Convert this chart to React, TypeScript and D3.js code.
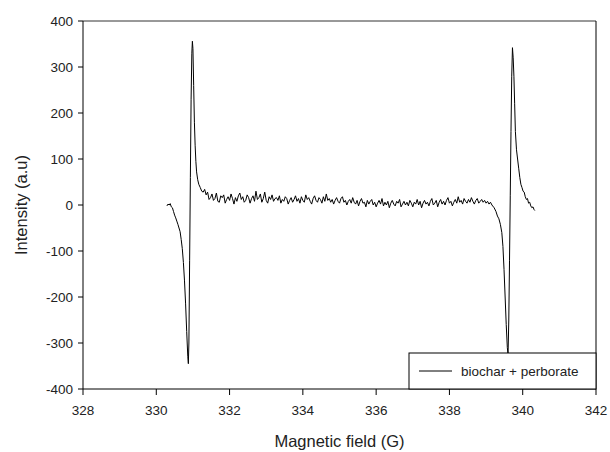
import React from "react";
import * as d3 from "d3";

const xTicks = [328, 330, 332, 334, 336, 338, 340, 342];
const yTicks = [-400, -300, -200, -100, 0, 100, 200, 300, 400];
const seriesName = "biochar + perborate";

// Left resonance line (field G, intensity)
const leftLine: [number, number][] = [
  [330.29, -2], [330.32, 2], [330.35, 0], [330.38, 3], [330.41, -4], [330.44, -6],
  [330.47, -14], [330.5, -22], [330.53, -28], [330.56, -35], [330.59, -42], [330.62, -50],
  [330.65, -58], [330.68, -75], [330.71, -95], [330.74, -125], [330.77, -165], [330.8, -215],
  [330.83, -275], [330.86, -330], [330.875, -345], [330.89, -300], [330.91, -120], [330.93, 60],
  [330.95, 230], [330.97, 330], [330.985, 356], [331.0, 340], [331.02, 260], [331.04, 180],
  [331.06, 130], [331.08, 95], [331.1, 72], [331.13, 55], [331.16, 45], [331.2, 38],
  [331.24, 30], [331.28, 28],
];

// Noisy baseline between the two lines
const baseline: [number, number][] = [
  [331.32, 34], [331.36, 22], [331.4, 28], [331.44, 12], [331.48, 16], [331.52, 24],
  [331.56, 10], [331.6, 14], [331.64, 26], [331.68, 8], [331.72, 6], [331.76, 20],
  [331.8, 16], [331.84, 22], [331.88, 4], [331.92, 12], [331.96, 18], [332.0, 10],
  [332.04, 24], [332.08, 14], [332.12, 2], [332.16, 16], [332.2, 8], [332.24, 20],
  [332.28, 26], [332.32, 12], [332.36, 18], [332.4, 6], [332.44, 10], [332.48, 22],
  [332.52, 16], [332.56, 4], [332.6, 14], [332.64, 20], [332.68, 8], [332.72, 30],
  [332.76, 12], [332.8, 16], [332.84, 24], [332.88, 6], [332.92, 14], [332.96, 28],
  [333.0, 10], [333.04, 4], [333.08, 18], [333.12, 12], [333.16, 22], [333.2, 8],
  [333.24, 14], [333.28, 16], [333.32, 10], [333.36, 20], [333.4, 4], [333.44, 12],
  [333.48, 8], [333.52, 18], [333.56, 14], [333.6, 2], [333.64, 10], [333.68, 16],
  [333.72, 6], [333.76, 12], [333.8, 20], [333.84, 8], [333.88, 14], [333.92, 4],
  [333.96, 18], [334.0, 10], [334.04, 6], [334.08, 22], [334.12, 12], [334.16, 16],
  [334.2, 8], [334.24, 2], [334.28, 14], [334.32, 20], [334.36, 10], [334.4, 6],
  [334.44, 16], [334.48, 12], [334.52, 4], [334.56, 18], [334.6, 8], [334.64, 24],
  [334.68, 10], [334.72, 14], [334.76, 6], [334.8, 12], [334.84, 2], [334.88, 10],
  [334.92, 16], [334.96, 8], [335.0, 4], [335.04, 14], [335.08, 18], [335.12, 6],
  [335.16, 10], [335.2, 0], [335.24, 8], [335.28, 12], [335.32, 4], [335.36, 16],
  [335.4, 6], [335.44, 2], [335.48, 10], [335.52, -2], [335.56, 8], [335.6, 14],
  [335.64, 4], [335.68, 6], [335.72, -4], [335.76, 10], [335.8, 2], [335.84, 8],
  [335.88, 12], [335.92, 0], [335.96, 6], [336.0, -4], [336.04, 4], [336.08, 10],
  [336.12, 2], [336.16, 14], [336.2, -2], [336.24, 6], [336.28, 0], [336.32, 8],
  [336.36, -6], [336.4, 4], [336.44, 10], [336.48, 2], [336.52, -2], [336.56, 8],
  [336.6, 4], [336.64, 12], [336.68, -4], [336.72, 2], [336.76, 8], [336.8, 0],
  [336.84, 6], [336.88, -2], [336.92, 10], [336.96, 4], [337.0, -4], [337.04, 6],
  [337.08, 2], [337.12, 12], [337.16, 0], [337.2, 8], [337.24, -6], [337.28, 4],
  [337.32, 10], [337.36, 2], [337.4, 6], [337.44, -2], [337.48, 8], [337.52, 14],
  [337.56, 0], [337.6, 4], [337.64, 10], [337.68, -4], [337.72, 6], [337.76, 12],
  [337.8, 2], [337.84, 8], [337.88, 0], [337.92, 10], [337.96, 16], [338.0, 4],
  [338.04, 8], [338.08, -2], [338.12, 6], [338.16, 12], [338.2, 4], [338.24, 18],
  [338.28, 6], [338.32, 10], [338.36, 2], [338.4, 14], [338.44, 8], [338.48, 4],
  [338.52, 12], [338.56, 6], [338.6, 16], [338.64, 8], [338.68, 2], [338.72, 10],
  [338.76, 14], [338.8, 4], [338.84, 8], [338.88, 12], [338.92, 6], [338.96, 10],
  [339.0, 4], [339.04, 8], [339.08, 2], [339.12, 6], [339.16, 0],
];

// Right resonance line
const rightLine: [number, number][] = [
  [339.22, -6], [339.27, -14], [339.31, -24], [339.35, -30], [339.39, -42], [339.43, -60],
  [339.46, -90], [339.49, -140], [339.52, -200], [339.55, -260], [339.58, -310], [339.6, -325],
  [339.62, -250], [339.64, -120], [339.66, 20], [339.68, 160], [339.7, 280], [339.72, 342],
  [339.74, 320], [339.76, 280], [339.78, 220], [339.8, 160], [339.83, 120], [339.86, 100],
  [339.89, 80], [339.92, 60], [339.95, 45], [339.98, 38], [340.01, 30], [340.04, 28],
  [340.07, 18], [340.1, 12], [340.13, 14], [340.16, 4], [340.19, 6], [340.22, -2],
  [340.25, -6], [340.28, -4], [340.31, -10], [340.33, -12],
];

const W = 610;
const H = 452;
const L = 83, R = 596, T = 21, B = 389;
const FONT = "'Liberation Sans', Arial, sans-serif";

export default function App() {
  const x = d3.scaleLinear().domain([328, 342]).range([L, R]);
  const y = d3.scaleLinear().domain([-400, 400]).range([B, T]);
  const data = [...leftLine, ...baseline, ...rightLine];
  const line = d3
    .line<[number, number]>()
    .x((d) => x(d[0]))
    .y((d) => y(d[1]));

  return (
    <svg
      width={W}
      height={H}
      style={{ position: "absolute", left: 0, top: 0, background: "#fff" }}
      fontFamily={FONT}
    >
      <rect x={0} y={0} width={W} height={H} fill="#fff" />
      <path d={line(data) || ""} fill="none" stroke="#000" strokeWidth={1} />

      {/* frame */}
      <line x1={L} x2={R} y1={T} y2={T} stroke="#333" />
      <line x1={R} x2={R} y1={T} y2={B} stroke="#000" />
      <line x1={L} x2={R} y1={B} y2={B} stroke="#000" />
      <line x1={L} x2={L} y1={T} y2={B} stroke="#000" />

      {/* y ticks */}
      {yTicks.map((t) => (
        <g key={"y" + t}>
          <line x1={L - 5} x2={L} y1={y(t)} y2={y(t)} stroke="#000" />
          <text
            x={L - 10}
            y={y(t)}
            dy="0.35em"
            textAnchor="end"
            fontSize={13.5}
            fill="#222"
          >
            {t}
          </text>
        </g>
      ))}

      {/* x ticks */}
      {xTicks.map((t) => (
        <g key={"x" + t}>
          <line x1={x(t)} x2={x(t)} y1={B} y2={B + 6} stroke="#000" />
          <text x={x(t)} y={415} textAnchor="middle" fontSize={13.5} fill="#222">
            {t}
          </text>
        </g>
      ))}

      {/* legend */}
      <rect x={409} y={353} width={R - 409} height={B - 353} fill="#fff" stroke="#000" />
      <line x1={419} x2={452} y1={371} y2={371} stroke="#000" />
      <text x={461} y={375.5} fontSize={13.5} fill="#222">
        {seriesName}
      </text>

      {/* axis titles */}
      <text x={(L + R) / 2} y={447} textAnchor="middle" fontSize={16.5} fill="#222">
        Magnetic field (G)
      </text>
      <text
        transform={`translate(27,${(T + B) / 2}) rotate(-90)`}
        textAnchor="middle"
        fontSize={16.5}
        fill="#222"
      >
        Intensity (a.u)
      </text>
    </svg>
  );
}
